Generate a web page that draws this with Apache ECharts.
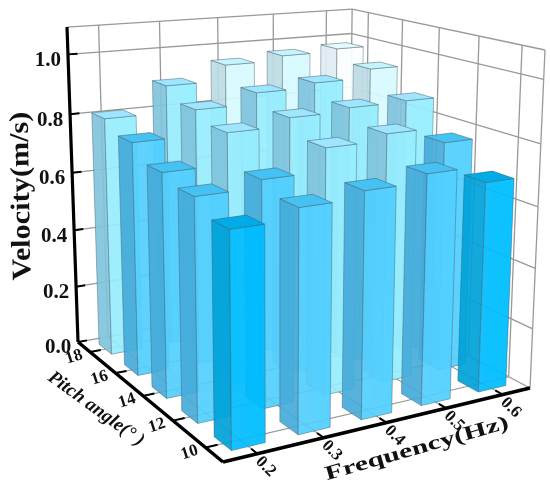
<!DOCTYPE html>
<html>
<head>
<meta charset="utf-8">
<style>html,body{margin:0;background:#fff}#main{width:550px;height:482px}</style>
<script src="https://cdn.jsdelivr.net/npm/echarts@6/dist/echarts.min.js"></script>
</head>
<body>
<div id="main"></div>
<script>
const frequency = ['0.2', '0.3', '0.4', '0.5', '0.6'];
const pitch = ['10', '12', '14', '16', '18'];
const velocityTicks = [0, 0.2, 0.4, 0.6, 0.8, 1.0];
// one row per pitch angle, one value per frequency
const velocity10 = [0.657, 0.691, 0.713, 0.738, 0.685];
const velocity12 = [0.700, 0.724, 0.797, 0.818, 0.767];
const velocity14 = [0.724, 0.824, 0.850, 0.862, 0.865];
const velocity16 = [0.773, 0.857, 0.893, 0.908, 0.938];
const velocity18 = [0.809, 0.899, 0.952, 0.968, 0.977];
const velocityRows = [velocity10, velocity12, velocity14, velocity16, velocity18];

const levelLimits = [0.69, 0.78, 0.92, 0.975];
const rightColors = ['#00bdff', '#52cfff', '#96eeff', '#d6faff', '#fafeff'];
const leftColors = ['#00a2d8', '#45abd9', '#7fc4dd', '#bcdbe5', '#dfecf1'];
const topColors = ['#00ace8', '#45c1f3', '#9ee5ff', '#c4f4ff', '#e6fbff'];

const velocityMax = 1.09;
const barWidth = 0.1;
const serif = '"Liberation Serif", serif';
const gridColor = '#999';

// perspective of the box: u along frequency, v along pitch, w upwards, all 0..1
const cam = {
  ox: 223, oy: 462,
  ax: 381.2, ay: -19.7,
  bx: -127.2, by: -42,
  cx: -17.8, cy: -388.5,
  g: 0.14, h: 0.228, i: -0.064
};
function project(u, v, w) {
  const d = 1 + cam.g * u + cam.h * v + cam.i * w;
  return [
    (cam.ox + cam.ax * u + cam.bx * v + cam.cx * w) / d,
    (cam.oy + cam.ay * u + cam.by * v + cam.cy * w) / d
  ];
}
const catPos = k => echarts.number.linearMap(k, [-0.5, 4.5], [0, 1]);
const valPos = val => echarts.number.linearMap(val, [0, velocityMax], [0, 1]);

function line(a, b, color, width) {
  return {
    type: 'line', silent: true,
    shape: {x1: a[0], y1: a[1], x2: b[0], y2: b[1]},
    style: {stroke: color, lineWidth: width}
  };
}
function label(text, p, rot, font, extra) {
  return Object.assign({
    type: 'text', silent: true, x: p[0], y: p[1], rotation: rot * Math.PI / 180,
    style: {text: text, font: font, fill: '#111', align: 'center', verticalAlign: 'middle'}
  }, extra || {});
}

function renderGrid() {
  const kids = [];
  frequency.forEach((f, k) => {
    const u = catPos(k);
    kids.push(line(project(u, 1, 0), project(u, 1, 1), gridColor, 1.3));
    kids.push(line(project(u, 0, 0), project(u, 1, 0), gridColor, 1.1));
  });
  pitch.forEach((p, k) => {
    const v = catPos(k);
    kids.push(line(project(1, v, 0), project(1, v, 1), gridColor, 1.3));
    kids.push(line(project(0, v, 0), project(1, v, 0), gridColor, 1.1));
  });
  velocityTicks.concat([velocityMax]).forEach(t => {
    const w = valPos(t);
    kids.push(line(project(0, 1, w), project(1, 1, w), gridColor, 1.3));
    kids.push(line(project(1, 1, w), project(1, 0, w), gridColor, 1.3));
  });
  kids.push(line(project(1, 0, 0), project(1, 0, 1), gridColor, 1.3));
  kids.push(line(project(1, 1, 0), project(1, 1, 1), gridColor, 1.3));
  return {type: 'group', children: kids};
}

function face(points, fill, opacity, strokeOpacity) {
  return {
    type: 'polygon', silent: true,
    shape: {points: points},
    style: {fill: fill, opacity: opacity, stroke: 'rgba(70,90,100,' + strokeOpacity + ')', lineWidth: 1}
  };
}
function renderBar(params, api) {
  const k = api.value(0), j = api.value(1), val = api.value(2);
  const half = barWidth / 2;
  const u0 = catPos(k) - half, u1 = catPos(k) + half;
  const v0 = catPos(j) - half, v1 = catPos(j) + half;
  const w = valPos(val);
  let lvl = 0;
  while (lvl < levelLimits.length && val >= levelLimits[lvl]) lvl++;
  const p = (u, v, z) => project(u, v, z);
  return {
    type: 'group',
    children: [
      face([p(u0, v0, 0), p(u1, v0, 0), p(u1, v1, 0), p(u0, v1, 0)], leftColors[lvl], 0.35, 0.2),
      face([p(u1, v0, 0), p(u1, v1, 0), p(u1, v1, w), p(u1, v0, w)], rightColors[lvl], 0.55, 0.12),
      face([p(u0, v1, 0), p(u1, v1, 0), p(u1, v1, w), p(u0, v1, w)], leftColors[lvl], 0.35, 0.12),
      face([p(u0, v0, 0), p(u0, v1, 0), p(u0, v1, w), p(u0, v0, w)], leftColors[lvl], 0.88, 0.45),
      face([p(u0, v0, 0), p(u1, v0, 0), p(u1, v0, w), p(u0, v0, w)], rightColors[lvl], 0.88, 0.45),
      face([p(u0, v0, w), p(u1, v0, w), p(u1, v1, w), p(u0, v1, w)], topColors[lvl], 1, 0.45)
    ]
  };
}

function renderAxes() {
  const kids = [];
  kids.push(line(project(0, 1, 0), project(0, 1, 1), '#000', 3.2));
  kids.push(line(project(0, 0, 0), project(0, 1, 0), '#000', 3.5));
  kids.push(line(project(0, 0, 0), project(1, 0, 0), '#000', 3.5));
  velocityTicks.forEach(t => {
    const w = valPos(t);
    const a = project(0, 1, w);
    kids.push(line(a, project(0.03, 1, w), '#000', 2));
    kids.push(label(t.toFixed(1), [a[0] - 20, a[1] + 6], 0, 'bold 21px ' + serif));
  });
  pitch.forEach((t, k) => {
    const v = catPos(k);
    const a = project(0, v, 0);
    kids.push(line(a, project(0.035, v, 0), '#000', 2));
    kids.push(label(t, [a[0] - 16, a[1] + 5], 18, '600 17px ' + serif));
  });
  frequency.forEach((t, k) => {
    const u = catPos(k);
    const a = project(u, 0, 0);
    kids.push(line(a, project(u, 0.035, 0), '#000', 2));
    kids.push(label(t, [a[0] + 8, a[1] + 13], -45, '600 17px ' + serif));
  });
  kids.push(label('Velocity(m/s)', [22, 196], 91, 'bold 27px ' + serif, {scaleX: 1.12}));
  kids.push(label('Pitch angle(\u00b0 )', [96, 409], -36, 'italic 600 19px ' + serif));
  kids.push(label('Frequency(Hz)', [417, 449], 16, 'bold 20px ' + serif, {scaleX: 1.48}));
  return {type: 'group', children: kids};
}

// back rows are painted first so the near bars cover them
const barData = [];
for (let j = pitch.length - 1; j >= 0; j--) {
  for (let k = frequency.length - 1; k >= 0; k--) {
    barData.push([k, j, velocityRows[j][k]]);
  }
}

const chart = echarts.init(document.getElementById('main'), null, {renderer: 'canvas'});
chart.setOption({
  animation: false,
  backgroundColor: '#fff',
  series: [
    {type: 'custom', coordinateSystem: 'none', data: [0], renderItem: renderGrid, silent: true, z: 1},
    {type: 'custom', coordinateSystem: 'none', data: barData, renderItem: renderBar, silent: true, z: 2},
    {type: 'custom', coordinateSystem: 'none', data: [0], renderItem: renderAxes, silent: true, z: 3}
  ]
});
</script>
</body>
</html>
